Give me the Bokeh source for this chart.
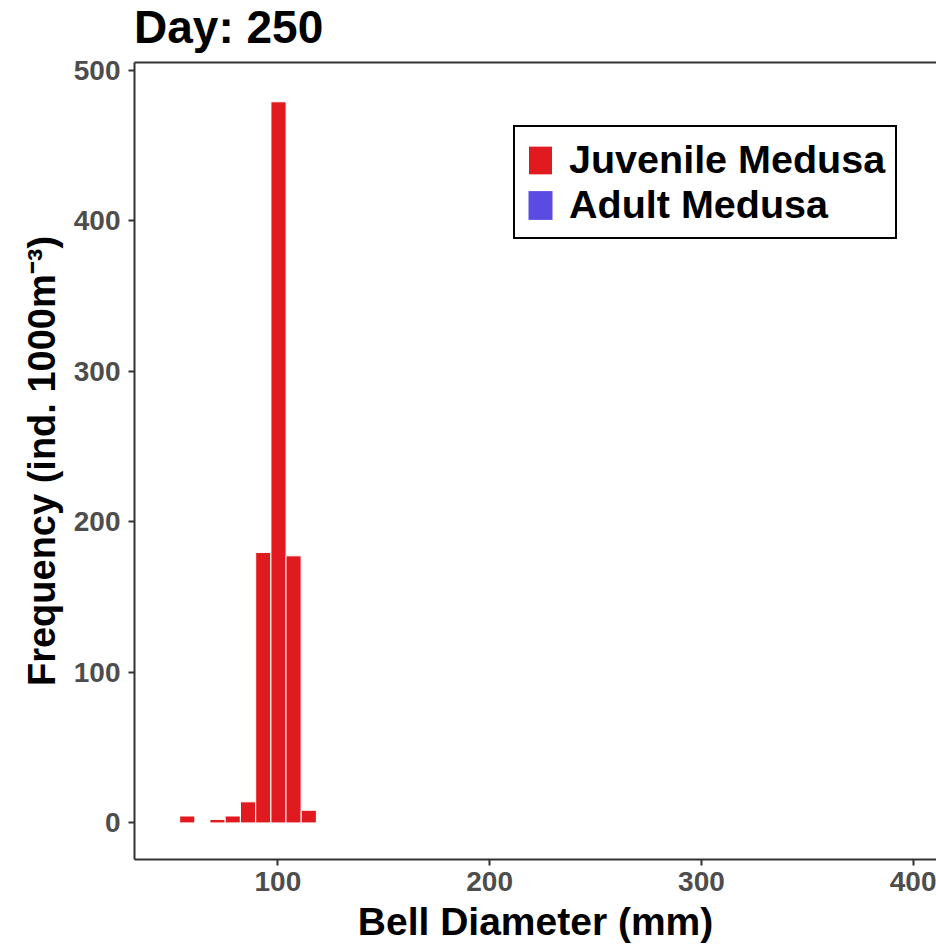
from bokeh.plotting import figure
from bokeh.layouts import column
from bokeh.models import (Range1d, LinearAxis, FixedTicker, Legend, LegendItem,
                          ColumnDataSource, Div)
from bokeh.embed import file_html
from bokeh.resources import INLINE

# Bell-diameter histogram, day 250
bin_centers = [57.2, 71.5, 78.7, 85.9, 93.1, 100.3, 107.4, 114.6]
juvenile_freq = [4.6, 2.3, 4.6, 14.0, 179.6, 479.0, 177.4, 8.4]
adult_freq = [0, 0, 0, 0, 0, 0, 0, 0]
bin_width = 7.15

x_ticks = [100, 200, 300, 400]
y_ticks = [0, 100, 200, 300, 400, 500]

FONT = "Liberation Sans"
RED = "#E01A1E"
BLUE = "#5B4BE2"

TITLE_H = 55

title = Div(text="Day: 250", width=936, height=TITLE_H, margin=0,
            styles={"font-family": FONT, "font-size": "46px",
                    "font-weight": "bold", "color": "black",
                    "line-height": "46px", "padding-top": "4px",
                    "padding-left": "134px", "box-sizing": "border-box",
                    "background": "white"})

p = figure(width=936, height=945 - TITLE_H, output_backend="svg",
           toolbar_location=None, margin=0,
           x_range=Range1d(32.3, 411.0), y_range=Range1d(-24.3, 505.1),
           min_border_left=134, min_border_right=0, min_border_top=62 - TITLE_H,
           min_border_bottom=86)

src = ColumnDataSource(dict(x=bin_centers, juv=juvenile_freq, adu=adult_freq))
juv = p.vbar(x="x", top="juv", bottom=0, width=bin_width, source=src,
             fill_color=RED, line_color="white", line_width=1)
adu = p.vbar(x="x", top="adu", bottom=0, width=bin_width, source=src,
             fill_color=BLUE, line_color=None)

p.grid.visible = False
p.outline_line_color = None
p.background_fill_color = "white"
p.border_fill_color = "white"

AXIS_COLOR = "#333333"
for ax in (p.xaxis[0], p.yaxis[0]):
    ax.axis_line_color = AXIS_COLOR
    ax.axis_line_width = 2
    ax.major_tick_line_color = AXIS_COLOR
    ax.major_tick_line_width = 2
    ax.major_tick_out = 6
    ax.major_tick_in = 0
    ax.minor_tick_line_color = None
    ax.major_label_text_font = FONT
    ax.major_label_text_font_style = "bold"
    ax.major_label_text_font_size = "28px"
    ax.major_label_text_color = "#4D4D4D"
    ax.axis_label_text_font = FONT
    ax.axis_label_text_font_style = "bold"
    ax.axis_label_text_color = "black"

p.xaxis[0].axis_label_text_font_size = "39px"
p.yaxis[0].axis_label_text_font_size = "38px"
p.xaxis[0].ticker = FixedTicker(ticks=x_ticks)
p.yaxis[0].ticker = FixedTicker(ticks=y_ticks)
p.xaxis[0].axis_label = "Bell Diameter (mm)"
p.yaxis[0].axis_label = "Frequency (ind. 1000m\u207B\u00B3)"
p.xaxis[0].major_label_standoff = 6
p.yaxis[0].major_label_standoff = 8
p.xaxis[0].axis_label_standoff = 6
p.yaxis[0].axis_label_standoff = 8

# top border of the panel (bare axis line)
top = LinearAxis(ticker=FixedTicker(ticks=[]), axis_line_color=AXIS_COLOR,
                 axis_line_width=2, major_tick_out=0, minor_tick_out=0,
                 major_label_standoff=0, axis_label_standoff=0)
p.add_layout(top, "above")

legend = Legend(items=[LegendItem(label="Juvenile Medusa", renderers=[juv]),
                       LegendItem(label="Adult Medusa", renderers=[adu])],
                location=(379, 620))
legend.label_text_font = FONT
legend.label_text_font_style = "bold"
legend.label_text_font_size = "39.5px"
legend.label_text_color = "black"
legend.glyph_width = 30
legend.glyph_height = 36
legend.label_height = 36
legend.label_standoff = 14
legend.spacing = 0
legend.padding = 10
legend.margin = 0
legend.border_line_color = "black"
legend.border_line_alpha = 1.0
legend.border_line_width = 2
p.add_layout(legend, "center")

page = column(title, p, spacing=0, margin=0)
open("out.html", "w").write(file_html(page, INLINE))
